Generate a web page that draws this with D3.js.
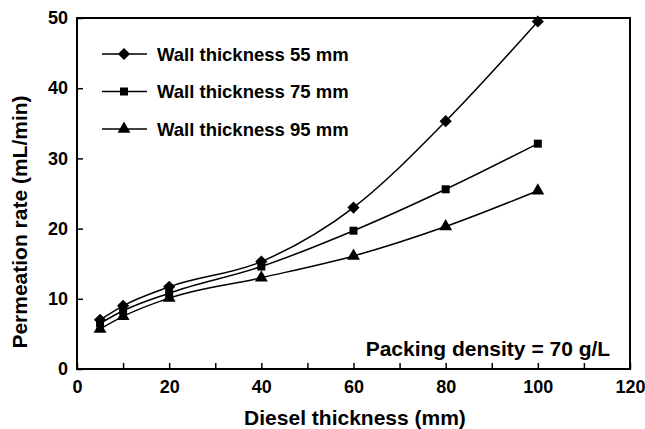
<!DOCTYPE html>
<html>
<head>
<meta charset="utf-8">
<script src="https://cdn.jsdelivr.net/npm/d3@7"></script>
<style>
  body { margin: 0; background: #fff; }
  text { font-family: "Liberation Sans", Arial, sans-serif; font-weight: bold; fill: #000; }
</style>
</head>
<body>
<div id="wrapper"></div>
<script>
// data
const dieselThickness = [5, 10, 20, 40, 60, 80, 100];
const wall55 = [7.0, 9.0, 11.7, 15.3, 23.0, 35.3, 49.5];
const wall75 = [6.5, 8.3, 10.8, 14.6, 19.7, 25.6, 32.1];
const wall95 = [5.7, 7.5, 10.1, 13.0, 16.1, 20.3, 25.4];
const seriesNames = ["Wall thickness 55 mm", "Wall thickness 75 mm", "Wall thickness 95 mm"];
const xTicks = [0, 20, 40, 60, 80, 100, 120];
const yTicks = [0, 10, 20, 30, 40, 50];

const series = [
  { name: seriesNames[0], values: wall55, symbol: d3.symbolDiamond2, size: 95 },
  { name: seriesNames[1], values: wall75, symbol: d3.symbolSquare, size: 64 },
  { name: seriesNames[2], values: wall95, symbol: d3.symbolTriangle, size: 72 },
];

let dimensions = {
  width: 645,
  height: 429,
  margins: { top: 18, right: 15, bottom: 60, left: 77 },
};
dimensions.boundedWidth = dimensions.width - dimensions.margins.left - dimensions.margins.right;
dimensions.boundedHeight = dimensions.height - dimensions.margins.top - dimensions.margins.bottom;

const wrapper = d3.select("#wrapper")
  .append("svg")
  .attr("width", dimensions.width)
  .attr("height", dimensions.height);

const bounds = wrapper.append("g")
  .attr("transform", `translate(${dimensions.margins.left},${dimensions.margins.top})`);

const xScale = d3.scaleLinear().domain([0, 120]).range([0, dimensions.boundedWidth]);
const yScale = d3.scaleLinear().domain([0, 50]).range([dimensions.boundedHeight, 0]);

// frame
bounds.append("rect")
  .attr("width", dimensions.boundedWidth)
  .attr("height", dimensions.boundedHeight)
  .attr("fill", "none")
  .attr("stroke", "#000")
  .attr("stroke-width", 2);

// x axis (ticks inside, minor ticks every 10)
const xAxis = bounds.append("g")
  .attr("transform", `translate(0,${dimensions.boundedHeight})`)
  .call(d3.axisBottom(xScale).tickValues(d3.range(0, 121, 10)).tickSize(-6).tickPadding(11)
    .tickFormat((d) => xTicks.includes(d) ? d : ""));
xAxis.select(".domain").remove();
xAxis.selectAll("line").attr("stroke-width", 1.5);
xAxis.selectAll("text").style("font-size", "18px").attr("dy", "0.71em");

const yAxis = bounds.append("g")
  .call(d3.axisLeft(yScale).tickValues(yTicks).tickSize(-6).tickPadding(9));
yAxis.select(".domain").remove();
yAxis.selectAll("line").attr("stroke-width", 1.5);
yAxis.selectAll("text").style("font-size", "18px");

// axis titles
wrapper.append("text")
  .attr("x", 355)
  .attr("y", 425)
  .attr("text-anchor", "middle")
  .style("font-size", "21px")
  .text("Diesel thickness (mm)");

wrapper.append("text")
  .attr("transform", "translate(27,222) rotate(-90)")
  .attr("text-anchor", "middle")
  .style("font-size", "21px")
  .text("Permeation rate (mL/min)");

// lines
const lineGenerator = d3.line()
  .x((d, i) => xScale(dieselThickness[i]))
  .y((d) => yScale(d))
  .curve(d3.curveMonotoneX);

bounds.selectAll(".series-line")
  .data(series)
  .join("path")
  .attr("class", "series-line")
  .attr("fill", "none")
  .attr("stroke", "#000")
  .attr("stroke-width", 1.5)
  .attr("d", (s) => lineGenerator(s.values));

series.forEach((s) => {
  bounds.selectAll(null)
    .data(s.values)
    .join("path")
    .attr("transform", (d, i) => `translate(${xScale(dieselThickness[i])},${yScale(d)})`)
    .attr("d", d3.symbol(s.symbol, s.size))
    .attr("fill", "#000");
});

// legend
const legendGroup = bounds.append("g").attr("transform", "translate(25,36)");
const legendRows = legendGroup.selectAll("g")
  .data(series)
  .join("g")
  .attr("transform", (d, i) => `translate(0,${i * 37.5})`);
legendRows.append("line")
  .attr("x1", 0).attr("x2", 45)
  .attr("stroke", "#000").attr("stroke-width", 1.5);
legendRows.append("path")
  .attr("transform", "translate(22,0)")
  .attr("d", (d) => d3.symbol(d.symbol, d.size)())
  .attr("fill", "#000");
legendRows.append("text")
  .attr("x", 55)
  .attr("dy", "0.36em")
  .style("font-size", "18.5px")
  .text((d) => d.name);

// annotation
bounds.append("text")
  .attr("x", xScale(115.7))
  .attr("y", yScale(1.8))
  .attr("text-anchor", "end")
  .style("font-size", "21px")
  .text("Packing density = 70 g/L");
</script>
</body>
</html>
